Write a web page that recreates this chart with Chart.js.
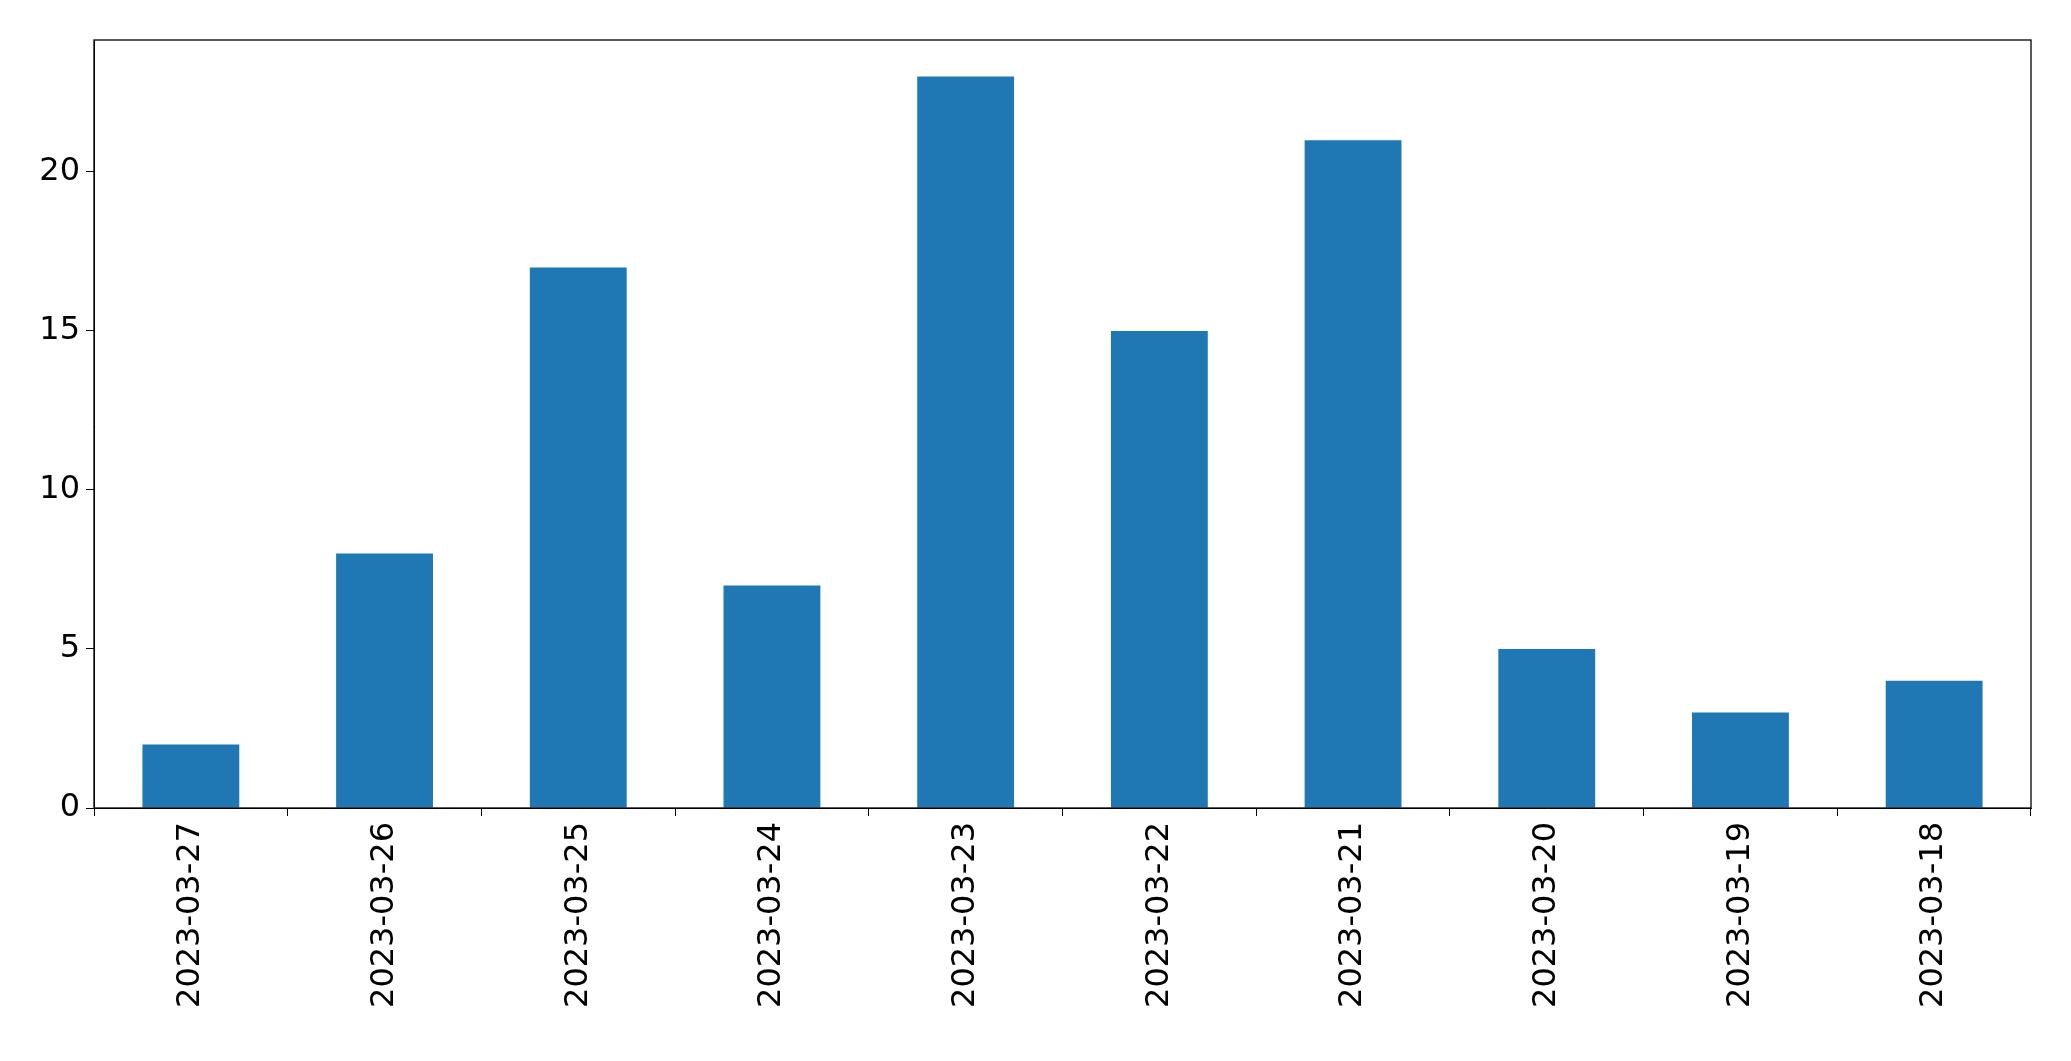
<!DOCTYPE html>
<html><head><meta charset="utf-8">
<script src="https://cdn.jsdelivr.net/npm/chart.js@4/dist/chart.umd.min.js"></script>
<style>html,body{margin:0;padding:0;background:#fff}#w{width:2071px;height:1061px}</style>
</head><body><div id="w"><canvas id="c"></canvas></div>
<script>
const categories = ["2023-03-27","2023-03-26","2023-03-25","2023-03-24","2023-03-23","2023-03-22","2023-03-21","2023-03-20","2023-03-19","2023-03-18"];
const counts = [2,8,17,7,23,15,21,5,3,4];
const yTicks = [0,5,10,15,20];
const frame = {id:'frame',afterDraw(ch){const a=ch.chartArea,x=ch.ctx;x.save();x.strokeStyle='#000';x.lineWidth=1.3;x.strokeRect(a.left,a.top,a.right-a.left,a.bottom-a.top);x.restore();}};
new Chart(document.getElementById('c'),{
 type:'bar',
 data:{labels:categories,datasets:[{data:counts,backgroundColor:'#1f77b4',barPercentage:0.5,categoryPercentage:1}]},
 options:{responsive:true,maintainAspectRatio:false,animation:false,
  layout:{padding:{top:40,right:40,left:0,bottom:0}},
  plugins:{legend:{display:false},tooltip:{enabled:false}},
  scales:{
   x:{grid:{drawOnChartArea:false,tickLength:8,color:'#000'},border:{color:'#000'},
      ticks:{color:'#000',font:{family:'DejaVu Sans',size:32},maxRotation:90,minRotation:90,padding:6},
      afterFit(s){s.height=253;}},
   y:{min:0,max:24.15,grid:{drawOnChartArea:false,tickLength:8,color:'#000'},border:{color:'#000'},
      afterBuildTicks(s){s.ticks=yTicks.map(v=>({value:v}));},
      ticks:{color:'#000',font:{family:'DejaVu Sans',size:32},padding:6},
      afterFit(s){s.width=94;}}
  }},
 plugins:[frame]
});
</script></body></html>
